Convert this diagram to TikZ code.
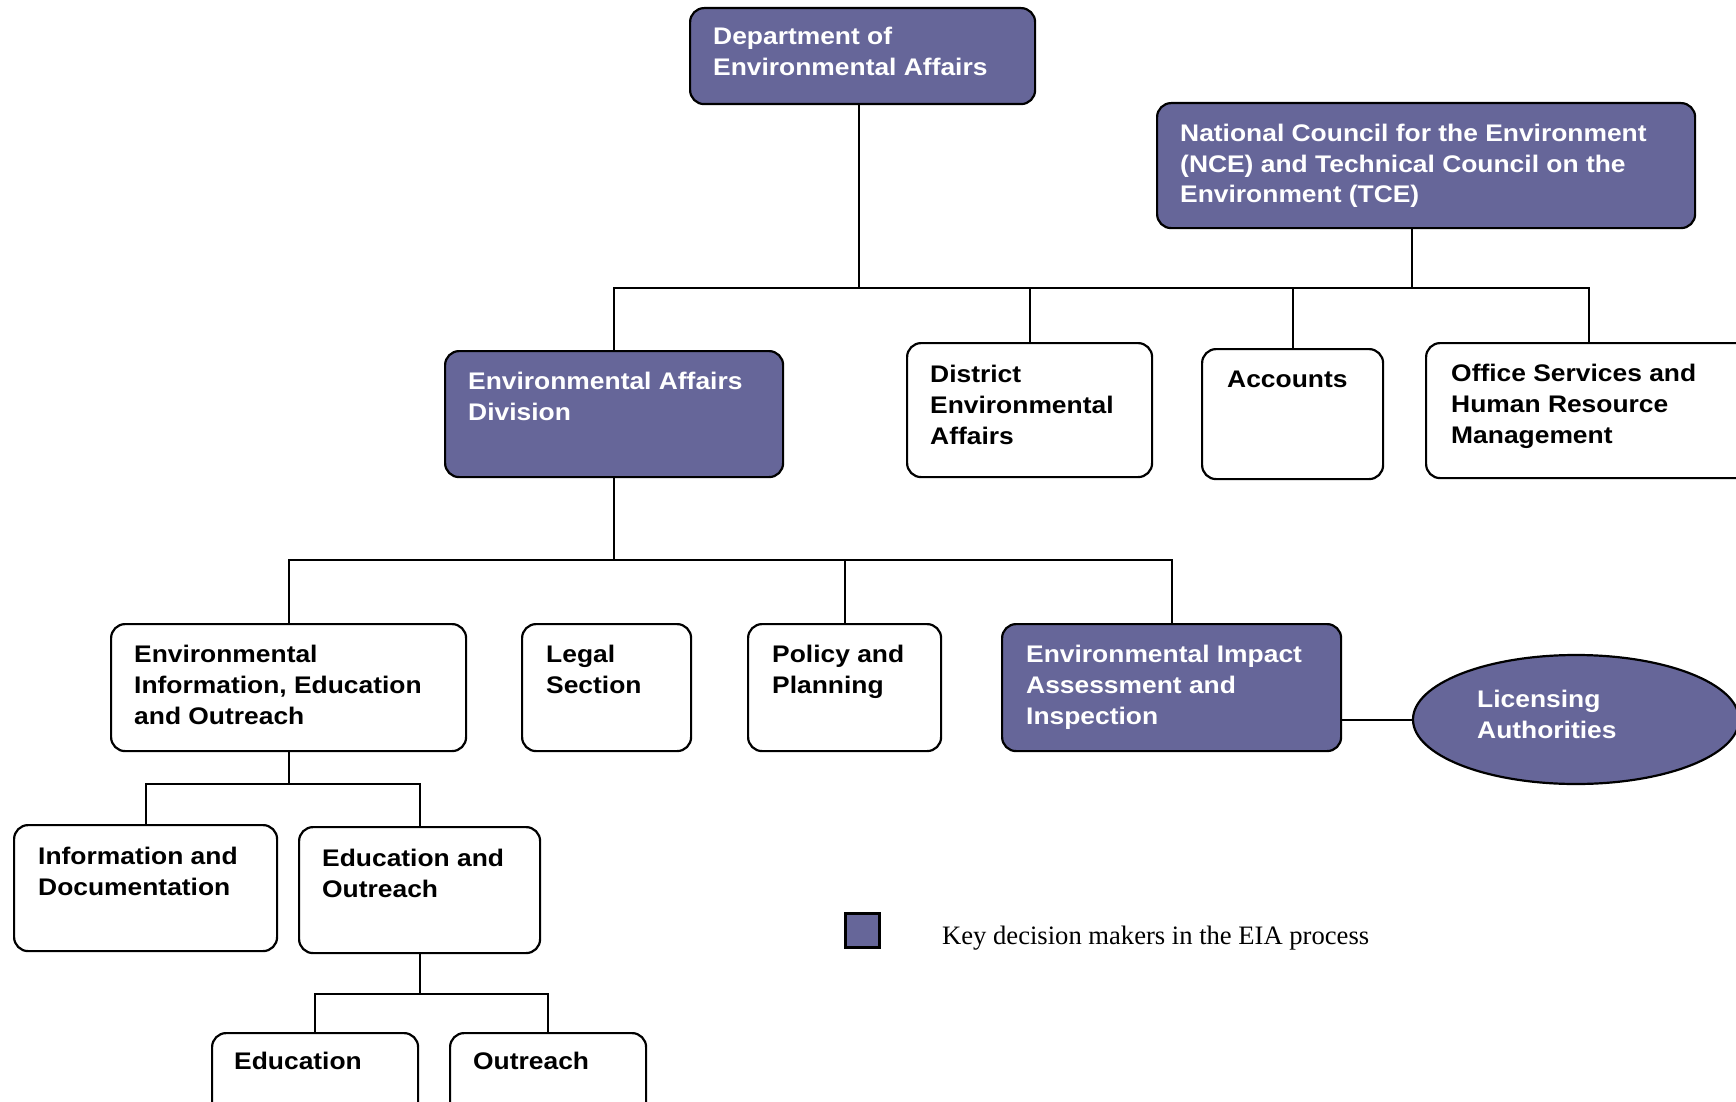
\documentclass[tikz,border=0pt]{standalone}
\usepackage{fontspec}
\usetikzlibrary{shapes.geometric,calc}
\newfontfamily\boxfont[FakeStretch=1.1]{Liberation Sans}
\newfontfamily\keyfont{Liberation Serif}
\definecolor{deap}{RGB}{102,102,153}
\tikzset{
  box/.style={draw=black, line width=2.2pt, rounded corners=14pt, fill=white, anchor=north west, inner sep=0pt},
  keybox/.style={box, fill=deap},
  lbl/.style={anchor=base west, inner sep=0pt, align=left, font=\boxfont\bfseries\fontsize{24}{31}\selectfont, text=black},
  wlbl/.style={lbl, text=white},
  conn/.style={line width=2pt, draw=black}
}
\begin{document}
\begin{tikzpicture}[x=1pt,y=-1pt]
\useasboundingbox (0,0) rectangle (1736,1102);

% top level (base anchor = last line)
\node[keybox, minimum width=345pt, minimum height=96pt] (dept) at (689,7) {};
\node[wlbl] (dept-t) at ([shift={(24,69)}]dept.north west) {Department of\\Environmental Affairs};

\node[keybox, minimum width=538pt, minimum height=125pt] (nce) at (1156,102) {};
\node[wlbl] (nce-t) at ([shift={(24,101)}]nce.north west) {National Council for the Environment\\(NCE) and Technical Council on the\\Environment (TCE)};

% second level
\node[keybox, minimum width=338pt, minimum height=126pt] (ead) at (444,350) {};
\node[wlbl] (ead-t) at ([shift={(24,70)}]ead.north west) {Environmental Affairs\\Division};

\node[box, minimum width=245pt, minimum height=134pt] (dea) at (906,342) {};
\node[lbl] (dea-t) at ([shift={(24,102)}]dea.north west) {District\\Environmental\\Affairs};

\node[box, minimum width=181pt, minimum height=130pt] (acc) at (1201,348) {};
\node[lbl] (acc-t) at ([shift={(26,39)}]acc.north west) {Accounts};

\node[box, minimum width=326pt, minimum height=135pt] (osh) at (1425,342) {};
\node[lbl] (osh-t) at ([shift={(26,101)}]osh.north west) {Office Services and\\Human Resource\\Management};

% third level
\node[box, minimum width=355pt, minimum height=127pt] (eieo) at (110,623) {};
\node[lbl] (eieo-t) at ([shift={(24,101)}]eieo.north west) {Environmental\\Information, Education\\and Outreach};

\node[box, minimum width=169pt, minimum height=127pt] (legal) at (521,623) {};
\node[lbl] (legal-t) at ([shift={(25,70)}]legal.north west) {Legal\\Section};

\node[box, minimum width=193pt, minimum height=127pt] (pol) at (747,623) {};
\node[lbl] (pol-t) at ([shift={(25,70)}]pol.north west) {Policy and\\Planning};

\node[keybox, minimum width=339pt, minimum height=127pt] (eia) at (1001,623) {};
\node[wlbl] (eia-t) at ([shift={(25,101)}]eia.north west) {Environmental Impact\\Assessment and\\Inspection};

\node[ellipse, draw=black, line width=2.2pt, fill=deap, minimum width=326pt, minimum height=129pt, inner sep=0pt] (lic) at (1576,719.5) {};
\node[wlbl] (lic-t) at ([shift={(-99,19)}]lic.center) {Licensing\\Authorities};

% fourth level
\node[box, minimum width=263pt, minimum height=126pt] (info) at (13,824) {};
\node[lbl] (info-t) at ([shift={(25,71)}]info.north west) {Information and\\Documentation};

\node[box, minimum width=241pt, minimum height=126pt] (edo) at (298,826) {};
\node[lbl] (edo-t) at ([shift={(24,71)}]edo.north west) {Education and\\Outreach};

% fifth level
\node[box, minimum width=206pt, minimum height=100pt] (edu) at (211,1032) {};
\node[lbl] (edu-t) at ([shift={(23,37)}]edu.north west) {Education};

\node[box, minimum width=196pt, minimum height=100pt] (out) at (449,1032) {};
\node[lbl] (out-t) at ([shift={(24,37)}]out.north west) {Outreach};

% legend
\node[draw=black, line width=2.5pt, fill=deap, minimum size=34pt, inner sep=0pt, anchor=north west] (key) at (844,912) {};
\node[anchor=base west, inner sep=0pt, font=\keyfont\fontsize{26.6}{31}\selectfont] (key-t) at (942,944) {Key decision makers in the EIA process};

% connectors
\coordinate (bus1) at (0,288);
\coordinate (bus2) at (0,560);
\coordinate (bus3) at (0,784);
\coordinate (bus4) at (0,994);

\draw[conn] ([xshift=-4pt]dept.south) -- ([xshift=-4pt]dept.south |- bus1);
\draw[conn] ([xshift=-14pt]nce.south) -- ([xshift=-14pt]nce.south |- bus1);
\draw[conn] (ead.north) -- (ead.north |- bus1) -- (osh.north |- bus1) -- (osh.north);
\draw[conn] (dea.north) -- (dea.north |- bus1);
\draw[conn] (acc.north) -- (acc.north |- bus1);

\draw[conn] (ead.south) -- (ead.south |- bus2);
\draw[conn] (eieo.north) -- (eieo.north |- bus2) -- (eia.north |- bus2) -- (eia.north);
\draw[conn] (pol.north) -- (pol.north |- bus2);
\draw[conn] (eia.east |- lic.west) -- (lic.west);

\draw[conn] (eieo.south) -- (eieo.south |- bus3);
\draw[conn] (info.north) -- (info.north |- bus3) -- (edo.north |- bus3) -- (edo.north);

\draw[conn] (edo.south) -- (edo.south |- bus4);
\draw[conn] (edu.north) -- (edu.north |- bus4) -- (out.north |- bus4) -- (out.north);
\end{tikzpicture}
\end{document}
